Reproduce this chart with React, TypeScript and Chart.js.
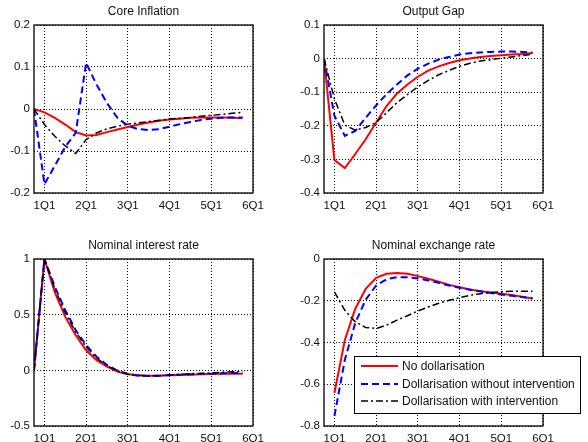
import React, { useEffect, useRef } from 'react';
import { Chart, registerables } from 'chart.js';

Chart.register(...registerables);

// ---------- data ----------
const QUARTER_INDEX = [0, 1, 2, 3, 4, 5, 6, 7, 8, 9, 10, 11, 12, 13, 14, 15, 16, 17, 18, 19, 20];
const X_TICK_POS = [1, 5, 9, 13, 17, 21];
const X_TICK_LABELS = ['1Q1', '2Q1', '3Q1', '4Q1', '5Q1', '6Q1'];

const SERIES_NAMES = ['No dollarisation', 'Dollarisation without intervention', 'Dollarisation with intervention'];

const CORE_NO = [0, -0.008, -0.021, -0.037, -0.055, -0.063, -0.062, -0.055, -0.049, -0.043, -0.037, -0.032, -0.028, -0.025, -0.023, -0.021, -0.02, -0.02, -0.02, -0.021, -0.022];
const CORE_WITHOUT = [0, -0.179, -0.135, -0.09, -0.057, 0.11, 0.058, 0.014, -0.021, -0.04, -0.048, -0.05, -0.048, -0.042, -0.036, -0.031, -0.026, -0.023, -0.021, -0.02, -0.02];
const CORE_WITH = [0, -0.037, -0.065, -0.088, -0.106, -0.073, -0.057, -0.047, -0.041, -0.036, -0.033, -0.03, -0.027, -0.024, -0.022, -0.02, -0.017, -0.015, -0.013, -0.01, -0.008];
const CORE_Y_TICKS = [-0.2, -0.1, 0, 0.1, 0.2];

const GAP_NO = [0, -0.302, -0.326, -0.284, -0.24, -0.19, -0.141, -0.104, -0.077, -0.054, -0.036, -0.023, -0.013, -0.005, 0, 0.005, 0.008, 0.01, 0.012, 0.014, 0.017];
const GAP_WITHOUT = [0, -0.17, -0.23, -0.215, -0.176, -0.139, -0.106, -0.077, -0.05, -0.03, -0.015, -0.003, 0.005, 0.012, 0.016, 0.018, 0.02, 0.021, 0.021, 0.02, 0.018];
const GAP_WITH = [0, -0.12, -0.198, -0.213, -0.205, -0.19, -0.161, -0.131, -0.107, -0.084, -0.065, -0.048, -0.035, -0.023, -0.014, -0.007, -0.003, 0.001, 0.005, 0.009, 0.013];
const GAP_Y_TICKS = [-0.4, -0.3, -0.2, -0.1, 0, 0.1];

const RATE_NO = [0, 1, 0.7, 0.48, 0.315, 0.18, 0.092, 0.033, -0.012, -0.036, -0.045, -0.048, -0.048, -0.045, -0.042, -0.039, -0.036, -0.033, -0.03, -0.03, -0.03];
const RATE_WITHOUT = [0, 1, 0.75, 0.54, 0.36, 0.226, 0.122, 0.048, -0.003, -0.033, -0.048, -0.05, -0.048, -0.042, -0.039, -0.036, -0.033, -0.03, -0.027, -0.024, -0.024];
const RATE_WITH = [0, 1, 0.73, 0.515, 0.345, 0.21, 0.11, 0.042, -0.006, -0.033, -0.045, -0.05, -0.048, -0.042, -0.036, -0.03, -0.027, -0.024, -0.018, -0.012, -0.009];
const RATE_Y_TICKS = [-0.5, 0, 0.5, 1];

const FX_NO = [null, -0.642, -0.388, -0.238, -0.143, -0.09, -0.071, -0.067, -0.071, -0.082, -0.095, -0.109, -0.124, -0.135, -0.146, -0.154, -0.16, -0.166, -0.173, -0.181, -0.189];
const FX_WITHOUT = [null, -0.752, -0.483, -0.306, -0.195, -0.127, -0.097, -0.087, -0.087, -0.093, -0.103, -0.114, -0.127, -0.138, -0.147, -0.155, -0.163, -0.17, -0.176, -0.182, -0.189];
const FX_WITH = [null, -0.158, -0.246, -0.301, -0.328, -0.333, -0.317, -0.293, -0.272, -0.249, -0.23, -0.212, -0.198, -0.185, -0.174, -0.166, -0.16, -0.157, -0.155, -0.155, -0.155];
const FX_Y_TICKS = [-0.8, -0.6, -0.4, -0.2, 0];

// ---------- styles ----------
const W = 294;
const H = 221;
const FONT_FAMILY = '"Liberation Sans", Arial, Helvetica, sans-serif';
const STYLES = [
  { color: '#ff0000', width: 2, dash: [] as number[] },
  { color: '#0000ff', width: 2, dash: [7, 4] },
  { color: '#000000', width: 1.5, dash: [7, 3, 2, 3] },
];

type Area = { left: number; right: number; top: number; bottom: number };
type PanelDef = {
  title: string;
  series: (number | null)[][];
  yTicks: number[];
  area: Area;
  x: number;
  y: number;
  legend?: boolean;
};

const fmt = (v: number) => {
  const r = Math.round(v * 100) / 100;
  return Object.is(r, -0) || r === 0 ? '0' : String(r);
};

function Panel({ def }: { def: PanelDef }) {
  const ref = useRef<HTMLCanvasElement | null>(null);
  useEffect(() => {
    const canvas = ref.current;
    if (!canvas) return;
    const { area } = def;
    const deco = {
      id: 'deco' + def.title,
      afterDatasetsDraw(chart: any) {
        const { ctx } = chart;
        const ca = chart.chartArea;
        ctx.save();
        ctx.strokeStyle = '#000';
        ctx.lineWidth = 1.3;
        ctx.setLineDash([]);
        ctx.strokeRect(ca.left, ca.top, ca.right - ca.left, ca.bottom - ca.top);
        ctx.fillStyle = '#111';
        ctx.font = '12px ' + FONT_FAMILY;
        ctx.textAlign = 'center';
        ctx.textBaseline = 'middle';
        ctx.fillText(def.title, (ca.left + ca.right) / 2, ca.top - 13);
        if (def.legend) {
          const bx = 60, by = 135, bw = 226, bh = 57;
          ctx.fillStyle = '#fff';
          ctx.fillRect(bx, by, bw, bh);
          ctx.lineWidth = 1;
          ctx.strokeStyle = '#000';
          ctx.strokeRect(bx + 0.5, by + 0.5, bw, bh);
          const rows = [145, 163, 180];
          SERIES_NAMES.forEach((name, i) => {
            const st = STYLES[i];
            ctx.beginPath();
            ctx.strokeStyle = st.color;
            ctx.lineWidth = st.width;
            ctx.setLineDash(st.dash);
            ctx.moveTo(67, rows[i]);
            ctx.lineTo(104, rows[i]);
            ctx.stroke();
            ctx.setLineDash([]);
            ctx.fillStyle = '#111';
            ctx.textAlign = 'left';
            ctx.font = '12px ' + FONT_FAMILY;
            ctx.fillText(name, 108, rows[i] + 0.5);
          });
        }
        ctx.restore();
      },
    };
    const chart = new Chart(canvas, {
      type: 'line',
      data: {
        labels: QUARTER_INDEX,
        datasets: def.series.map((d, i) => ({
          label: SERIES_NAMES[i],
          data: d,
          borderColor: STYLES[i].color,
          backgroundColor: STYLES[i].color,
          borderWidth: STYLES[i].width,
          borderDash: STYLES[i].dash,
          pointRadius: 0,
          tension: 0,
          fill: false,
          order: 3 - i,
        })),
      },
      options: {
        animation: false,
        responsive: false,
        devicePixelRatio: 1,
        layout: { padding: { left: 0, top: area.top, right: W - area.right, bottom: 0 } },
        plugins: { legend: { display: false }, tooltip: { enabled: false }, title: { display: false } },
        scales: {
          x: {
            type: 'linear',
            min: 0,
            max: 21,
            afterBuildTicks: (s: any) => {
              s.ticks = X_TICK_POS.map((v) => ({ value: v }));
            },
            afterFit: (s: any) => {
              s.height = H - area.bottom;
            },
            ticks: {
              autoSkip: false,
              maxRotation: 0,
              padding: 6,
              color: '#111',
              font: { family: FONT_FAMILY, size: 11.5 },
              callback: (v: any) => {
                const idx = X_TICK_POS.indexOf(Number(v));
                return idx >= 0 ? X_TICK_LABELS[idx] : '';
              },
            },
            grid: { color: '#000', lineWidth: 1, drawTicks: false },
            border: { display: false, dash: [1, 2] },
          },
          y: {
            type: 'linear',
            min: def.yTicks[0],
            max: def.yTicks[def.yTicks.length - 1],
            afterBuildTicks: (s: any) => {
              s.ticks = def.yTicks.map((v) => ({ value: v }));
            },
            afterFit: (s: any) => {
              s.width = area.left;
            },
            ticks: {
              autoSkip: false,
              padding: 4,
              color: '#111',
              font: { family: FONT_FAMILY, size: 11.5 },
              callback: (v: any) => fmt(Number(v)),
            },
            grid: { color: '#000', lineWidth: 1, drawTicks: false },
            border: { display: false, dash: [1, 2] },
          },
        },
      },
      plugins: [deco],
    } as any);
    return () => chart.destroy();
  }, [def]);
  return (
    <canvas
      ref={ref}
      width={W}
      height={H}
      style={{ position: 'absolute', left: def.x, top: def.y, width: W, height: H, display: 'block' }}
    />
  );
}

const PANELS: PanelDef[] = [
  { title: 'Core Inflation', series: [CORE_NO, CORE_WITHOUT, CORE_WITH], yTicks: CORE_Y_TICKS, area: { left: 34, right: 253, top: 25, bottom: 193 }, x: 0, y: 0 },
  { title: 'Output Gap', series: [GAP_NO, GAP_WITHOUT, GAP_WITH], yTicks: GAP_Y_TICKS, area: { left: 30, right: 249, top: 25, bottom: 193 }, x: 294, y: 0 },
  { title: 'Nominal interest rate', series: [RATE_NO, RATE_WITHOUT, RATE_WITH], yTicks: RATE_Y_TICKS, area: { left: 34, right: 253, top: 38, bottom: 205 }, x: 0, y: 221 },
  { title: 'Nominal exchange rate', series: [FX_NO, FX_WITHOUT, FX_WITH], yTicks: FX_Y_TICKS, area: { left: 30, right: 249, top: 38, bottom: 205 }, x: 294, y: 221, legend: true },
];

export default function App() {
  return (
    <div style={{ position: 'fixed', left: 0, top: 0, width: 588, height: 442, background: '#fff', overflow: 'hidden' }}>
      {PANELS.map((p) => (
        <Panel key={p.title} def={p} />
      ))}
    </div>
  );
}
